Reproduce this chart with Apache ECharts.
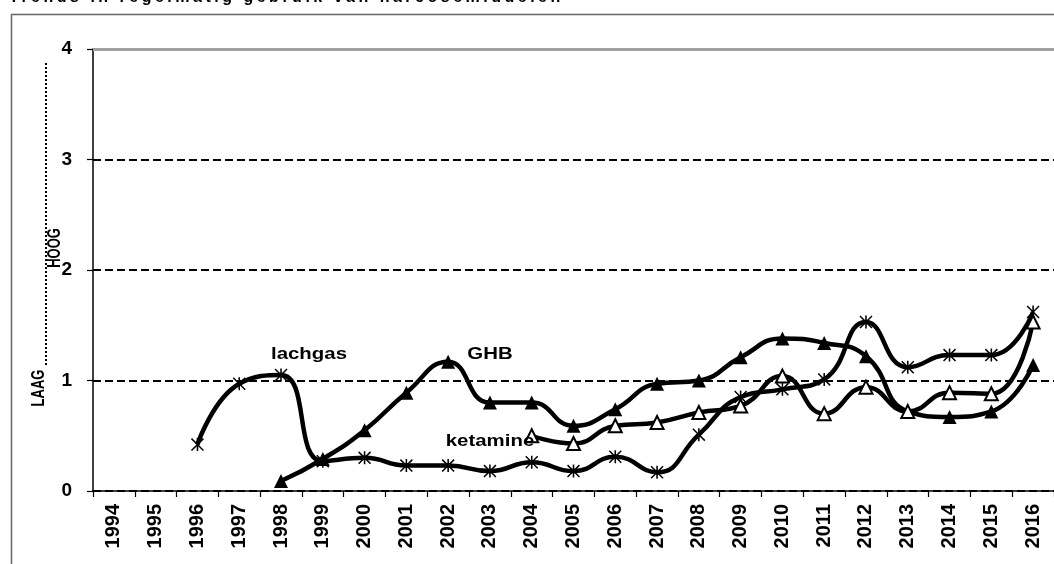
<!DOCTYPE html>
<html><head><meta charset="utf-8">
<script src="https://cdn.jsdelivr.net/npm/echarts@6/dist/echarts.min.js"></script>
<style>
html,body{margin:0;padding:0;background:#fff;overflow:hidden}
#c{width:1054px;height:564px;position:relative}
#t{position:absolute;left:9px;top:-13px;font:bold 16px "Liberation Sans",Arial,sans-serif;letter-spacing:3.5px;color:#000;white-space:nowrap;z-index:5;line-height:20px}
</style></head><body>
<div id="c"></div>
<div id="t">Trends in regelmatig gebruik van narcosemiddelen</div>
<script>
const years = ['1994','1995','1996','1997','1998','1999','2000','2001','2002','2003','2004','2005','2006','2007','2008','2009','2010','2011','2012','2013','2014','2015','2016'];
const lachgas = [null,null,0.42,0.97,1.05,0.27,0.30,0.23,0.23,0.18,0.26,0.18,0.31,0.17,0.51,0.85,0.92,1.01,1.53,1.12,1.23,1.23,1.62];
const ghb = [null,null,null,null,0.09,0.29,0.55,0.89,1.17,0.80,0.80,0.59,0.74,0.97,1.00,1.21,1.38,1.34,1.22,0.72,0.67,0.72,1.14];
const ketamine = [null,null,null,null,null,null,null,null,null,null,0.50,0.43,0.59,0.62,0.71,0.77,1.04,0.70,0.94,0.72,0.89,0.88,1.53];
const yTicks = [0,1,2,3,4];
const seriesNames = ['lachgas','GHB','ketamine'];

const asterisk = 'path://M4.4,0L5.6,0L5.6,10L4.4,10Z M0.8,0L10,9.2L9.2,10L0,0.8Z M9.2,0L10,0.8L0.8,10L0,9.2Z';
const FONT = '"Liberation Sans", Arial, sans-serif';

const chart = echarts.init(document.getElementById('c'), null, {renderer:'canvas'});
const lineStyle = {color:'#000', width:4.5};
chart.setOption({
  animation:false,
  backgroundColor:'#fff',
  grid:{left:93, top:49, width:965, height:442, containLabel:false},
  xAxis:{
    type:'category', data:years, boundaryGap:true,
    axisLine:{show:true, lineStyle:{color:'#000', width:1.5}},
    axisTick:{show:true, length:6, inside:false, lineStyle:{color:'#000', width:1.2}},
    axisLabel:{rotate:90, margin:13, color:'#000', fontWeight:'bold', fontSize:20, fontFamily:FONT, interval:0},
    splitLine:{show:false}
  },
  yAxis:{
    type:'value', min:yTicks[0], max:yTicks[yTicks.length-1], interval:1,
    axisLine:{show:true, lineStyle:{color:'#000', width:1.5}},
    axisTick:{show:true, length:6, inside:false, lineStyle:{color:'#000', width:1.2}},
    axisLabel:{margin:21, color:'#000', fontWeight:'bold', fontSize:19, fontFamily:FONT},
    splitLine:{show:true, lineStyle:{color:'#000', width:2, type:[8,4]}}
  },
  series:[
    {name:seriesNames[0], type:'line', data:lachgas, smooth:0.5, symbol:asterisk, symbolSize:13,
     lineStyle:lineStyle, itemStyle:{color:'#000'}, z:3,
     markLine:{silent:true, symbol:'none', label:{show:false}, data:[{yAxis:yTicks[4]}], lineStyle:{color:'#a0a0a0', type:'solid', width:3}}},
    {name:seriesNames[1], type:'line', data:ghb, smooth:0.5, symbol:'triangle', symbolSize:14,
     lineStyle:lineStyle, itemStyle:{color:'#000'}, z:4},
    {name:seriesNames[2], type:'line', data:ketamine, smooth:0.5, symbol:'emptyTriangle', symbolSize:13,
     lineStyle:lineStyle, itemStyle:{color:'#000', borderWidth:2}, z:5}
  ],
  graphic:[
    {type:'rect', left:9, top:12, shape:{x:0, y:0, width:1100, height:600}, style:{fill:'none', stroke:'#666', lineWidth:1.5}, silent:true, z:-1},
    {type:'text', x:309, y:354, scaleX:1.2, style:{text:seriesNames[0], font:'bold 17px '+FONT, fill:'#000', align:'center', verticalAlign:'middle'}, z:10},
    {type:'text', x:490, y:354, scaleX:1.2, style:{text:seriesNames[1], font:'bold 17px '+FONT, fill:'#000', align:'center', verticalAlign:'middle'}, z:10},
    {type:'text', x:490, y:441, scaleX:1.2, style:{text:seriesNames[2], font:'bold 17px '+FONT, fill:'#000', align:'center', verticalAlign:'middle'}, z:10},
    {type:'text', x:39, y:388, rotation:Math.PI/2, scaleY:1.35, style:{text:'LAAG', font:'bold 13px '+FONT, fill:'#000', align:'center', verticalAlign:'middle'}, z:10},
    {type:'text', x:55, y:248, rotation:Math.PI/2, scaleY:1.35, style:{text:'HOOG', font:'bold 13px '+FONT, fill:'#000', align:'center', verticalAlign:'middle'}, z:10},
    {type:'line', shape:{x1:46, y1:63, x2:46, y2:367}, style:{stroke:'#000', lineWidth:2, lineDash:[2,2]}, z:10}
  ]
});
</script>
</body></html>
